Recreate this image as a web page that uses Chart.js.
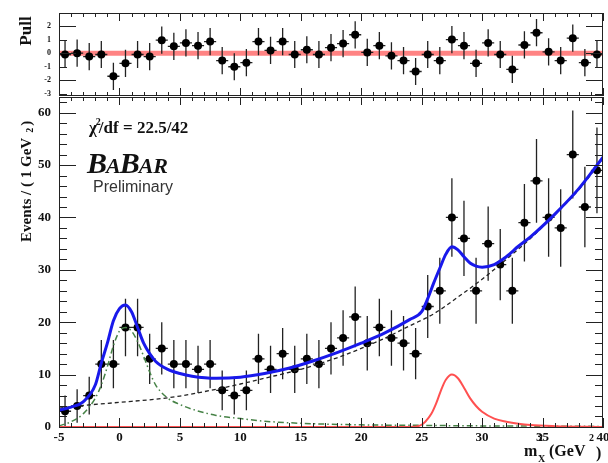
<!DOCTYPE html>
<html>
<head>
<meta charset="utf-8">
<script src="https://cdn.jsdelivr.net/npm/chart.js@4.4.0/dist/chart.umd.min.js"></script>
<style>
  body { margin: 0; background: #fff; }
  #wrap { position: relative; width: 608px; height: 463px; }
  canvas { position: absolute; left: 0; }
  #pull { top: 0; }
  #main { top: 90px; }
</style>
</head>
<body>
<div id="wrap">
  <canvas id="pull" width="608" height="100"></canvas>
  <canvas id="main" width="608" height="373"></canvas>
</div>
<script>
// bin centres of the m_X^2 histogram (1 GeV^2 bins)
const binCenters = [-4.5, -3.5, -2.5, -1.5, -0.5, 0.5, 1.5, 2.5, 3.5, 4.5,
  5.5, 6.5, 7.5, 8.5, 9.5, 10.5, 11.5, 12.5, 13.5, 14.5,
  15.5, 16.5, 17.5, 18.5, 19.5, 20.5, 21.5, 22.5, 23.5, 24.5,
  25.5, 26.5, 27.5, 28.5, 29.5, 30.5, 31.5, 32.5, 33.5, 34.5,
  35.5, 36.5, 37.5, 38.5, 39.5];
const events = [3, 4, 6, 12, 12, 19, 19, 13, 15, 12,
  12, 11, 12, 7, 6, 7, 13, 11, 14, 11,
  13, 12, 15, 17, 21, 16, 19, 17, 16, 14,
  23, 26, 40, 36, 26, 35, 31, 26, 39, 47,
  40, 38, 52, 42, 49];
const eventErrors = [3, 3.2, 3.6, 4.6, 4.6, 5.5, 5.5, 4.8, 5, 4.6,
  4.6, 4.5, 4.6, 3.8, 3.6, 3.8, 4.8, 4.5, 4.9, 4.5,
  4.8, 4.6, 5, 5.3, 5.8, 5.2, 5.5, 5.3, 5.2, 4.9,
  6, 6.3, 7.5, 7.2, 6.3, 7.1, 6.8, 6.3, 7.4, 8,
  7.5, 7.4, 8.4, 7.7, 8.2];
const pulls = [-0.1, 0, -0.25, -0.1, -1.7, -0.75, -0.1, -0.25, 0.95, 0.5,
  0.75, 0.55, 0.85, -0.55, -1, -0.7, 0.85, 0.2, 0.85, -0.1,
  0.25, -0.1, 0.4, 0.7, 1.35, 0.05, 0.55, -0.2, -0.55, -1.35,
  -0.1, -0.55, 1, 0.55, -0.75, 0.75, -0.1, -1.2, 0.6, 1.5,
  0.1, -0.55, 1.1, -0.7, -0.1];

// fit components
const totalX = [-5, -4, -3, -2, -1.5, -1, -0.5, 0, 0.5, 1, 1.5, 2, 2.5, 3, 4, 5, 6, 8, 10, 12, 14, 16, 18, 20, 22, 24, 25, 25.5, 26, 26.5, 27, 27.5, 28, 28.5, 29, 29.5, 30, 31, 32, 33, 34, 36, 38, 40];
const totalY = [3.2, 3.8, 4.8, 8, 12.2, 16, 20.3, 22.6, 23.3, 22, 19, 16, 14, 12.5, 11, 10.2, 9.7, 9.3, 9.5, 10.2, 11.2, 12.6, 14.2, 16, 18, 20.5, 22, 24.5, 27.5, 30.3, 33, 34.4, 33.8, 32.5, 31.3, 30.7, 30.5, 31, 32.5, 34.5, 36.3, 40.6, 45.5, 51.5];
const bkgX = [-5, -3, 0, 3, 5, 8, 10, 12, 15, 18, 20, 22, 24, 26, 28, 30, 32, 34, 36, 38, 40];
const bkgY = [3.6, 4.1, 4.7, 5.3, 5.9, 7.2, 8.2, 9.3, 11, 13.2, 15, 17, 19.3, 21.6, 24.8, 28.2, 32, 36, 40.5, 45.3, 51.3];
const peakX = [-5, -4, -3, -2, -1.5, -1, -0.5, 0, 0.5, 1, 1.5, 2, 2.5, 3, 4, 5, 6, 8, 10, 12, 15, 20, 25, 30, 35, 40];
const peakY = [0.2, 1, 2.5, 5.5, 8, 11.5, 15.5, 18.3, 19, 18.3, 16.3, 13.5, 10.5, 8, 5.5, 4.3, 3.4, 2.2, 1.6, 1.1, 0.7, 0.4, 0.3, 0.2, 0.15, 0.1];
const signalX = [-5, 24, 24.8, 25.3, 25.8, 26.2, 26.6, 27, 27.5, 28, 28.5, 29, 29.5, 30, 31, 32, 33, 34, 36, 40];
const signalY = [0, 0, 0.2, 1, 2.5, 4.5, 7, 9, 10, 9.3, 7.5, 5.5, 4, 2.9, 1.6, 1, 0.6, 0.35, 0.15, 0];

const xTicks = [-5, 0, 5, 10, 15, 20, 25, 30, 35, 40];
const yTicks = [0, 10, 20, 30, 40, 50, 60];
const pullTicks = [-3, -2, -1, 0, 1, 2];

Chart.defaults.font.family = 'Liberation Serif';
Chart.defaults.color = '#111';

function verticalBars(xs, ys, errs) {
  const d = [];
  xs.forEach((x, i) => {
    d.push({ x: x, y: ys[i] - errs[i] }, { x: x, y: ys[i] + errs[i] }, { x: x, y: null });
  });
  return d;
}
function horizontalBars(xs, ys, half) {
  const d = [];
  xs.forEach((x, i) => {
    d.push({ x: x - half, y: ys[i] }, { x: x + half, y: ys[i] }, { x: x, y: null });
  });
  return d;
}
function pts(xs, ys) {
  return xs.map((x, i) => ({ x: x, y: ys[i] }));
}

// ROOT-like frame with inward ticks on all four sides
const frameTicks = {
  id: 'frameTicks',
  afterDatasetsDraw(chart, args, o) {
    const { ctx, chartArea: a } = chart;
    const sx = chart.scales.x, sy = chart.scales.y;
    const isMajor = (v, step) => Math.abs(v / step - Math.round(v / step)) < 1e-6;
    ctx.save();
    ctx.strokeStyle = '#222';
    ctx.lineWidth = 1;
    ctx.beginPath();
    for (let v = o.x[0]; v <= o.x[1] + 1e-9; v += o.x[2]) {
      const px = Math.round(sx.getPixelForValue(v)) + 0.5;
      const len = isMajor(v, o.x[3]) ? o.xLen[0] : o.xLen[1];
      ctx.moveTo(px, a.bottom); ctx.lineTo(px, a.bottom - len);
      ctx.moveTo(px, a.top); ctx.lineTo(px, a.top + len * o.topScale);
    }
    for (let v = o.y[0]; v <= o.y[1] + 1e-9; v += o.y[2]) {
      const py = Math.round(sy.getPixelForValue(v)) + 0.5;
      const len = isMajor(v, o.y[3]) ? o.yLen[0] : o.yLen[1];
      ctx.moveTo(a.left, py); ctx.lineTo(a.left + len, py);
      ctx.moveTo(a.right, py); ctx.lineTo(a.right - len, py);
    }
    ctx.stroke();
    ctx.strokeRect(Math.round(a.left) + 0.5, Math.round(a.top) + 0.5, Math.round(a.width) - 1, Math.round(a.height) - 1);
    ctx.restore();
  }
};

const mainText = {
  id: 'mainText',
  afterDraw(chart) {
    const ctx = chart.ctx;
    ctx.save();
    ctx.fillStyle = '#111';
    ctx.textBaseline = 'alphabetic';
    ctx.textAlign = 'left';
    // chi2 / df
    let x = 89;
    ctx.font = 'bold 17px "Liberation Serif"';
    ctx.fillText('\u03C7', x, 43);
    x += ctx.measureText('\u03C7').width;
    ctx.font = 'bold 10px "Liberation Serif"';
    ctx.fillText('2', x - 1, 35);
    ctx.font = 'bold 17px "Liberation Serif"';
    ctx.fillText('/df = 22.5/42', x + 2, 43);
    // BaBar logo
    x = 87;
    const big = 'italic bold 30px "Liberation Serif"', small = 'italic bold 22px "Liberation Serif"';
    [['B', big], ['A', small], ['B', big], ['AR', small]].forEach(([t, f]) => {
      ctx.font = f;
      ctx.fillText(t, x, 83);
      x += ctx.measureText(t).width - 1;
    });
    ctx.font = '16px "Liberation Sans"';
    ctx.fillStyle = '#333';
    ctx.fillText('Preliminary', 93, 102);
    // x axis title
    ctx.fillStyle = '#111';
    ctx.font = 'bold 16px "Liberation Serif"';
    ctx.fillText('m', 524, 366);
    ctx.font = 'bold 10px "Liberation Serif"';
    ctx.fillText('2', 538, 351);
    ctx.fillText('X', 538, 372);
    ctx.font = 'bold 16px "Liberation Serif"';
    ctx.fillText('(GeV', 549, 366);
    ctx.font = 'bold 10px "Liberation Serif"';
    ctx.fillText('2', 589, 351);
    ctx.font = 'bold 16px "Liberation Serif"';
    ctx.fillText(')', 596, 368);
    // y axis title
    ctx.translate(31, 152);
    ctx.rotate(-Math.PI / 2);
    ctx.font = 'bold 15px "Liberation Serif"';
    const t = 'Events / ( 1 GeV';
    ctx.fillText(t, 0, 0);
    let w = ctx.measureText(t).width;
    ctx.font = 'bold 10px "Liberation Serif"';
    ctx.fillText('2', w + 5, 2);
    ctx.font = 'bold 15px "Liberation Serif"';
    ctx.fillText(')', w + 12, 0);
    ctx.restore();
  }
};

const pullText = {
  id: 'pullText',
  afterDraw(chart) {
    const ctx = chart.ctx;
    ctx.save();
    ctx.fillStyle = '#111';
    ctx.translate(31, 31);
    ctx.rotate(-Math.PI / 2);
    ctx.textAlign = 'center';
    ctx.font = 'bold 17px "Liberation Serif"';
    ctx.fillText('Pull', 0, 0);
    ctx.restore();
  }
};

const errorStyle = { borderColor: '#222', borderWidth: 1.3, pointRadius: 0, showLine: true, spanGaps: false, tension: 0 };
const dotStyle = { showLine: false, pointRadius: 4, pointBackgroundColor: '#000', pointBorderColor: '#000', pointBorderWidth: 0 };
const curveStyle = { pointRadius: 0, showLine: true, cubicInterpolationMode: 'monotone', fill: false };

new Chart(document.getElementById('pull'), {
  type: 'line',
  data: {
    datasets: [
      { ...dotStyle, data: pts(binCenters, pulls), order: 1 },
      { ...errorStyle, data: verticalBars(binCenters, pulls, pulls.map(() => 1)), order: 2 },
      { ...errorStyle, data: horizontalBars(binCenters, pulls, 0.5), order: 2 },
      { ...curveStyle, data: pts([-5, 40], [0, 0]), borderColor: 'rgba(255,90,90,0.75)', borderWidth: 5, order: 3 }
    ]
  },
  options: {
    responsive: false, animation: false, devicePixelRatio: 1,
    layout: { padding: { top: 13, right: 5, bottom: 4, left: 0 } },
    plugins: {
      legend: { display: false }, tooltip: { enabled: false },
      frameTicks: { x: [-5, 40, 1, 5], xLen: [8, 4], topScale: 1, y: [-3, 2, 1, 2], yLen: [17, 8] }
    },
    scales: {
      x: { type: 'linear', min: -5, max: 40, display: false },
      y: {
        min: -3.15, max: 2.95,
        grid: { display: false, drawTicks: false },
        border: { display: false },
        ticks: { font: { size: 8, weight: 'bold' }, padding: 8, autoSkip: false },
        afterBuildTicks: s => { s.ticks = pullTicks.map(v => ({ value: v })); },
        afterFit: s => { s.width = 59; s.paddingTop = 0; s.paddingBottom = 0; }
      }
    }
  },
  plugins: [frameTicks, pullText]
});

new Chart(document.getElementById('main'), {
  type: 'line',
  data: {
    datasets: [
      { ...curveStyle, data: pts(totalX, totalY), borderColor: 'rgb(25,25,235)', borderWidth: 3, order: 1 },
      { ...curveStyle, data: pts(signalX, signalY), borderColor: 'rgb(255,80,80)', borderWidth: 2, order: 2 },
      { ...curveStyle, data: pts(bkgX, bkgY), borderColor: '#222', borderWidth: 1.3, borderDash: [4, 3], order: 3 },
      { ...curveStyle, data: pts(peakX, peakY), borderColor: 'rgb(70,130,70)', borderWidth: 1.5, borderDash: [6, 3, 1.5, 3], order: 3 },
      { ...dotStyle, data: pts(binCenters, events), order: 4 },
      { ...errorStyle, data: verticalBars(binCenters, events, eventErrors), order: 5 },
      { ...errorStyle, data: horizontalBars(binCenters, events, 0.5), order: 5 }
    ]
  },
  options: {
    responsive: false, animation: false, devicePixelRatio: 1,
    layout: { padding: { top: 7, right: 5, bottom: 0, left: 0 } },
    plugins: {
      legend: { display: false }, tooltip: { enabled: false },
      frameTicks: { x: [-5, 40, 1, 5], xLen: [10, 5], topScale: 0.8, y: [0, 62, 2, 10], yLen: [17, 8] }
    },
    scales: {
      x: {
        type: 'linear', min: -5, max: 40,
        grid: { display: false, drawTicks: false },
        border: { display: false },
        ticks: { font: { size: 13, weight: 'bold' }, padding: 2, autoSkip: false, maxRotation: 0 },
        afterBuildTicks: s => { s.ticks = xTicks.map(v => ({ value: v })); },
        afterFit: s => { s.height = 35; s.paddingLeft = 0; s.paddingRight = 0; }
      },
      y: {
        min: -0.2, max: 63,
        grid: { display: false, drawTicks: false },
        border: { display: false },
        ticks: { font: { size: 13, weight: 'bold' }, padding: 8, autoSkip: false },
        afterBuildTicks: s => { s.ticks = yTicks.map(v => ({ value: v })); },
        afterFit: s => { s.width = 59; s.paddingTop = 0; s.paddingBottom = 0; }
      }
    }
  },
  plugins: [frameTicks, mainText]
});
</script>
</body>
</html>
